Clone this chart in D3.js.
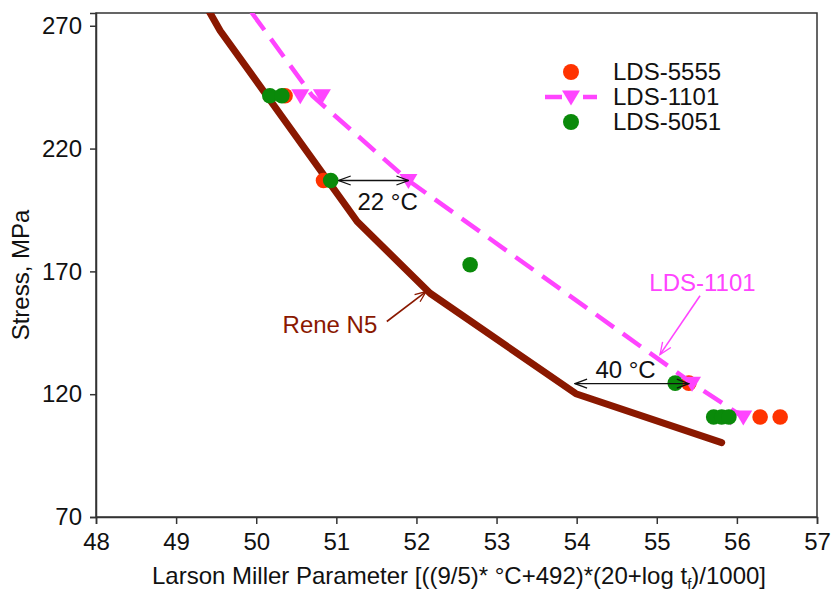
<!DOCTYPE html>
<html>
<head>
<meta charset="utf-8">
<script src="https://cdn.jsdelivr.net/npm/d3@7"></script>
<style>
  body { margin: 0; background: #fff; }
  text { font-family: "Liberation Sans", Arial, sans-serif; }
</style>
</head>
<body>
<svg id="chart"></svg>
<script>
// ---- data ----
const xTicks = [48, 49, 50, 51, 52, 53, 54, 55, 56, 57];
const yTicks = [70, 120, 170, 220, 270];

// Rene N5 reference curve [LMP, stress]
const reneN5 = [[49.41, 276], [49.55, 268], [51.26, 190.3], [52.17, 161.1], [53.99, 120.2], [55.81, 100.3]];

// LDS-1101 dashed trend + markers
const lds1101Line = [[49.94, 275.5], [50.7, 241.5], [51.9, 207], [55.44, 124.5], [56.08, 110.7]];
const lds1101 = [[50.55, 241.5], [50.82, 241.5], [51.9, 207], [55.44, 124.5], [55.92, 110.7], [56.08, 110.7]];

const lds5555 = [[50.36, 241.5], [50.84, 207], [55.4, 124.5], [56.29, 110.7], [56.54, 110.7]];
const lds5051 = [[50.17, 241.5], [50.32, 241.5], [50.93, 207], [52.67, 172.7], [55.23, 124.5],
                 [55.71, 110.7], [55.81, 110.7], [55.9, 110.7]];

// temperature-gap annotations: [x1, x2, y, label, labelX, labelY]
const gaps = [[51.03, 51.9, 207, "22 °C", 51.64, 194.8],
              [53.98, 55.4, 124.3, "40 °C", 54.61, 126.5]];

const legendNames = ["LDS-5555", "LDS-1101", "LDS-5051"];

// ---- layout ----
const W = 834, H = 592;
const margin = { top: 13, right: 17, bottom: 75, left: 96 };
const width = W - margin.left - margin.right;
const height = H - margin.top - margin.bottom;

const red = "#ff3300", green = "#0a8a0a", magenta = "#ff44ff", rene = "#8a1800";
const fs = 24;

const svg = d3.select("#chart").attr("width", W).attr("height", H);

const defs = svg.append("defs");
defs.append("clipPath").attr("id", "plot-clip")
  .append("rect").attr("width", width).attr("height", height);

function marker(id, color, len, half) {
  defs.append("marker")
    .attr("id", id)
    .attr("markerUnits", "userSpaceOnUse")
    .attr("viewBox", `-1 ${-half - 1} ${len + 2} ${2 * half + 2}`)
    .attr("markerWidth", len + 2)
    .attr("markerHeight", 2 * half + 2)
    .attr("refX", len)
    .attr("refY", 0)
    .attr("orient", "auto-start-reverse")
    .append("path")
    .attr("d", `M0,${-half} L${len},0 L0,${half}`)
    .attr("fill", "none")
    .attr("stroke", color)
    .attr("stroke-width", 1.3);
}
marker("arr-black", "#111", 12, 4.5);
marker("arr-rene", rene, 11, 4.5);
marker("arr-mag", magenta, 12, 5);

const g = svg.append("g").attr("transform", `translate(${margin.left},${margin.top})`);

const x = d3.scaleLinear().domain([48, 57]).range([0, width]);
const y = d3.scaleLinear().domain([70, 275.2]).range([height, 0]);

// frame (top/right)
g.append("rect")
  .attr("width", width).attr("height", height)
  .attr("fill", "none").attr("stroke", "#333").attr("stroke-width", 1.5);

// axes
const xAxis = g.append("g")
  .attr("transform", `translate(0,${height})`)
  .call(d3.axisBottom(x).tickValues(xTicks).tickFormat(d3.format("d")).tickSize(7).tickPadding(9));
const yAxis = g.append("g")
  .call(d3.axisLeft(y).tickValues(yTicks).tickFormat(d3.format("d")).tickSize(6).tickPadding(8));
[xAxis, yAxis].forEach(a => {
  a.selectAll("path, line").attr("stroke", "#333").attr("stroke-width", 1.5);
  a.selectAll("text").attr("font-size", fs).attr("fill", "#111")
    .style("font-family", '"Liberation Sans", Arial, sans-serif');
});

// axis titles
const xt = svg.append("text")
  .attr("x", 459).attr("y", 584)
  .attr("text-anchor", "middle").attr("font-size", fs).attr("fill", "#111");
xt.append("tspan").text("Larson Miller Parameter [((9/5)* °C+492)*(20+log t");
xt.append("tspan").attr("font-size", 15).attr("dy", 5).text("f");
xt.append("tspan").attr("dy", -5).text(")/1000]");

svg.append("text")
  .attr("transform", "translate(29,275) rotate(-90)")
  .attr("text-anchor", "middle").attr("font-size", fs).attr("fill", "#111")
  .text("Stress, MPa");

// lines
const line = d3.line().x(d => x(d[0])).y(d => y(d[1]));
const plot = g.append("g").attr("clip-path", "url(#plot-clip)");

plot.append("path").datum(reneN5)
  .attr("d", line).attr("fill", "none")
  .attr("stroke", rene).attr("stroke-width", 7)
  .attr("stroke-linejoin", "round").attr("stroke-linecap", "round");

// red points
plot.selectAll(".p5555").data(lds5555).join("circle")
  .attr("class", "p5555")
  .attr("cx", d => x(d[0])).attr("cy", d => y(d[1])).attr("r", 7.8)
  .attr("fill", red);

plot.append("path").datum(lds1101Line)
  .attr("d", line).attr("fill", "none")
  .attr("stroke", magenta).attr("stroke-width", 4.5)
  .attr("stroke-dasharray", "22,11");

const tri = "M-9,-6.5 L9,-6.5 L0,8.5 Z";
plot.selectAll(".p1101").data(lds1101).join("path")
  .attr("class", "p1101")
  .attr("d", tri)
  .attr("transform", d => `translate(${x(d[0])},${y(d[1])})`)
  .attr("fill", magenta);

plot.selectAll(".p5051").data(lds5051).join("circle")
  .attr("class", "p5051")
  .attr("cx", d => x(d[0])).attr("cy", d => y(d[1])).attr("r", 7.8)
  .attr("fill", green);

// temperature gap arrows
gaps.forEach(([x1, x2, yv, label, lx, ly]) => {
  g.append("line")
    .attr("x1", x(x1)).attr("x2", x(x2))
    .attr("y1", y(yv)).attr("y2", y(yv))
    .attr("stroke", "#111").attr("stroke-width", 1.3)
    .attr("marker-start", "url(#arr-black)")
    .attr("marker-end", "url(#arr-black)");
  g.append("text")
    .attr("x", x(lx)).attr("y", y(ly))
    .attr("text-anchor", "middle").attr("font-size", fs).attr("fill", "#111")
    .text(label);
});

// callouts
g.append("text")
  .attr("x", x(50.92)).attr("y", y(145.1))
  .attr("text-anchor", "middle").attr("font-size", fs).attr("fill", rene)
  .text("Rene N5");
g.append("line")
  .attr("x1", x(51.63)).attr("y1", y(149.6))
  .attr("x2", x(52.12)).attr("y2", y(161.8))
  .attr("stroke", rene).attr("stroke-width", 1.6)
  .attr("marker-end", "url(#arr-rene)");

g.append("text")
  .attr("x", x(55.57)).attr("y", y(162.2))
  .attr("text-anchor", "middle").attr("font-size", fs).attr("fill", magenta)
  .text("LDS-1101");
g.append("line")
  .attr("x1", x(55.54)).attr("y1", y(160.1))
  .attr("x2", x(55.04)).attr("y2", y(136.1))
  .attr("stroke", magenta).attr("stroke-width", 1.6)
  .attr("marker-end", "url(#arr-mag)");

// legend
const leg = svg.append("g").attr("transform", "translate(571,72)");
legendNames.forEach((name, i) => {
  const row = leg.append("g").attr("transform", `translate(0,${i * 25})`);
  if (i === 1) {
    row.append("line").attr("x1", -26).attr("x2", 26)
      .attr("stroke", magenta).attr("stroke-width", 4.5)
      .attr("stroke-dasharray", "17,21");
    row.append("path").attr("d", tri).attr("fill", magenta);
  } else {
    row.append("circle").attr("r", 8).attr("fill", i === 0 ? red : green);
  }
  row.append("text")
    .attr("x", 42).attr("y", 8)
    .attr("font-size", fs).attr("fill", "#111")
    .text(name);
});
</script>
</body>
</html>
